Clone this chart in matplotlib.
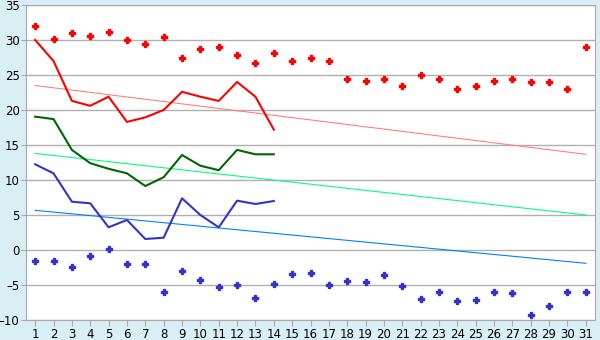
import matplotlib
matplotlib.use('Agg')
import matplotlib.pyplot as plt

## data ##
days = list(range(1, 32))
max_points = [32.0, 30.1, 30.95, 30.6, 31.1, 29.95, 29.4, 30.4, 27.4, 28.7,
              28.95, 27.8, 26.7, 28.2, 26.95, 27.4, 26.95, 24.4, 24.1, 24.4,
              23.5, 24.95, 24.4, 22.95, 23.4, 24.2, 24.4, 23.95, 23.95, 22.95, 28.95]
min_points = [-1.57, -1.57, -2.48, -0.9, 0.1, -2.05, -2.05, -6.05, -3.0, -4.29,
              -5.33, -5.05, -6.9, -4.9, -3.48, -3.33, -5.05, -4.43, -4.62, -3.62,
              -5.19, -7.05, -6.05, -7.33, -7.19, -6.05, -6.19, -9.33, -8.05, -6.05, -6.05]
line_days = list(range(1, 15))
max_line = [30.0, 27.0, 21.3, 20.6, 21.9, 18.3, 18.95, 20.0, 22.6, 21.9, 21.3, 24.0, 21.9, 17.2]
mean_line = [19.05, 18.7, 14.3, 12.4, 11.6, 10.95, 9.14, 10.4, 13.57, 12.04, 11.4, 14.3, 13.67, 13.67]
min_line = [12.24, 10.95, 6.9, 6.67, 3.24, 4.29, 1.57, 1.76, 7.38, 5.0, 3.24, 7.05, 6.57, 7.0]
trend_days = [1, 31]
max_trend = [23.5, 13.67]
mean_trend = [13.8, 5.0]
min_trend = [5.67, -1.9]

bg = '#daeff5'
fig = plt.figure(figsize=(6, 3.4), dpi=100, facecolor=bg)
ax = fig.add_axes([26/600, 1 - 320/340, 569/600, 315/340])
ax.set_facecolor('white')

# trend lines
ax.plot(trend_days, max_trend, color='#ff8080', lw=0.8)
ax.plot(trend_days, mean_trend, color='#00ff80', lw=0.8)
ax.plot(trend_days, min_trend, color='#0080ff', lw=0.8)

# daily lines
ax.plot(line_days, max_line, color='#ff0000', lw=1.5)
ax.plot(line_days, mean_line, color='#006600', lw=1.5)
ax.plot(line_days, min_line, color='#3333cc', lw=1.5)

# points
ax.plot(days, max_points, ls='none', marker='P', ms=5, color='#ff0000', mec='#ff0000')
ax.plot(days, min_points, ls='none', marker='P', ms=5, color='#3333cc', mec='#3333cc')

ax.set_xlim(0.5, 31.5)
ax.set_ylim(-10, 35)
ax.set_xticks(days)
ax.set_yticks(range(-10, 36, 5))
ax.set_yticklabels([str(v).replace('-', '\u2013') for v in range(-10, 36, 5)])
ax.grid(axis='y', color='#b0b0b0', lw=1)
ax.set_axisbelow(True)
for s in ax.spines.values():
    s.set_color('#a8a8a8')
ax.tick_params(axis='x', length=4.5, color='#a8a8a8', labelsize=8.5, pad=1)
ax.tick_params(axis='y', length=3.6, color='#a8a8a8', labelsize=8.5, pad=1)

fig.savefig('out.png', dpi=100, facecolor=bg)
